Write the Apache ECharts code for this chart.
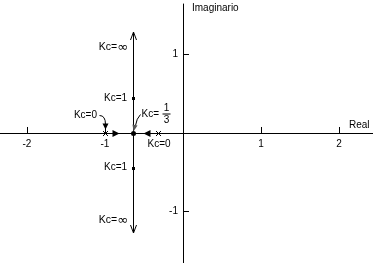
<!DOCTYPE html>
<html><head><meta charset="utf-8">
<script src="https://cdn.jsdelivr.net/npm/echarts@6/dist/echarts.min.js"></script>
<style>html,body{margin:0;padding:0;background:#fff}#c{width:373px;height:263px}</style>
</head><body><div id="c"></div>
<script>
// ---- data ----
const xTicks = [-2, -1, 1, 2];
const yTicks = [-1, 1];
const xRange = [-2.346, 2.436];
const yRange = [-1.656, 1.643];
const poles = [-1, -0.32];
const breakaway = -0.64;
const kcOneImag = [0.44, -0.44];
const locusEnd = 1.28;
const dirArrowX = [-0.87, -0.46];
const dirArrowSide = ['right', 'left'];
const xName = 'Real';
const yName = 'Imaginario';
const txtInf = ['Kc=', '∞'];
const txtOne = 'Kc=1';
const txtZero = 'Kc=0';
const txtThird = ['Kc=', '1', '3'];

const FAMILY = '"Liberation Sans", Arial, sans-serif';
const FONT = '10px ' + FAMILY;
const INK = '#000';
const r = v => Math.round(v) + 0.5;
function txt(x, y, text, align, valign) {
  return { type: 'text', x: x, y: y, style: { text: text, font: FONT, fill: INK, textAlign: align || 'left', textVerticalAlign: valign || 'middle' } };
}
function infTxt(x, y) {
  return { type: 'text', x: x, y: y, style: {
    text: '{k|' + txtInf[0] + '}{i|' + txtInf[1] + '}',
    rich: { k: { fontSize: 10.5, fontFamily: FAMILY, fill: INK, color: INK }, i: { fontSize: 13, fontFamily: '"DejaVu Sans", sans-serif', fill: INK, color: INK } },
    font: FONT, fill: INK, textAlign: 'right', textVerticalAlign: 'middle' } };
}
function seg(x1, y1, x2, y2, color, w) {
  return { type: 'line', shape: { x1: x1, y1: y1, x2: x2, y2: y2 }, style: { stroke: color || INK, lineWidth: w || 1 } };
}
function tri(points, color) {
  return { type: 'polygon', shape: { points: points }, style: { fill: color || INK } };
}

const chart = echarts.init(document.getElementById('c'), null, { renderer: 'canvas' });
chart.setOption({
  animation: false,
  backgroundColor: '#fff',
  grid: { left: 0, right: 0, top: 4, bottom: 0, containLabel: false, outerBoundsMode: 'none' },
  xAxis: {
    type: 'value', min: xRange[0], max: xRange[1],
    axisLine: { onZero: true, lineStyle: { color: INK, width: 1 } },
    axisTick: { show: true, inside: true, length: 6, customValues: xTicks, lineStyle: { color: INK } },
    axisLabel: { show: false },
    splitLine: { show: false }
  },
  yAxis: {
    type: 'value', min: yRange[0], max: yRange[1],
    axisLine: { onZero: true, lineStyle: { color: INK, width: 1 } },
    axisTick: { show: true, inside: true, length: 6, customValues: yTicks, lineStyle: { color: INK } },
    axisLabel: { show: false },
    splitLine: { show: false }
  },
  series: [
    { // tick labels on the x axis
      type: 'custom', clip: false, silent: true,
      data: xTicks.map(v => [v, 0]),
      renderItem: function (params, api) {
        const c = api.coord([api.value(0), api.value(1)]);
        return txt(c[0], c[1] + 11, String(api.value(0)), 'center');
      }
    },
    { // tick labels on the y axis
      type: 'custom', clip: false, silent: true,
      data: yTicks.map(v => [0, v]),
      renderItem: function (params, api) {
        const c = api.coord([api.value(0), api.value(1)]);
        return txt(c[0] - 5, c[1], String(api.value(1)), 'right');
      }
    },
    { // locus vertical branch with open arrowheads
      type: 'custom', clip: false, silent: true,
      data: [[breakaway, -locusEnd, locusEnd]],
      renderItem: function (params, api) {
        const top = api.coord([api.value(0), api.value(2)]);
        const bot = api.coord([api.value(0), api.value(1)]);
        const x = r(top[0]);
        const ty = Math.round(top[1]), by = Math.round(bot[1]);
        return { type: 'group', children: [
          seg(x, ty, x, by),
          seg(x, ty, x - 3, ty + 8), seg(x, ty, x + 3, ty + 8),
          seg(x, by, x - 3, by - 8), seg(x, by, x + 3, by - 8)
        ] };
      }
    },
    { // open-loop poles (x marks)
      type: 'custom', clip: false, silent: true,
      data: poles.map(p => [p, 0]),
      renderItem: function (params, api) {
        const c = api.coord([api.value(0), api.value(1)]);
        const x = Math.round(c[0]) + 0.5, y = Math.round(c[1]) + 0.5;
        return { type: 'group', children: [
          seg(x - 2.5, y - 2.5, x + 2.5, y + 2.5), seg(x - 2.5, y + 2.5, x + 2.5, y - 2.5)
        ] };
      }
    },
    { // direction arrows on real axis
      type: 'custom', clip: false, silent: true,
      data: dirArrowX.map((x, i) => [x, 0, dirArrowSide[i] === 'right' ? 1 : -1]),
      renderItem: function (params, api) {
        const c = api.coord([api.value(0), api.value(1)]);
        const d = api.value(2);
        const x = Math.round(c[0]) + 0.5, y = Math.round(c[1]) + 0.5;
        return tri([[x + 4 * d, y], [x - 3 * d, y - 3.5], [x - 3 * d, y + 3.5]]);
      }
    },
    { // Kc=1 points
      type: 'custom', clip: false, silent: true,
      data: kcOneImag.map(v => [breakaway, v]),
      renderItem: function (params, api) {
        const c = api.coord([api.value(0), api.value(1)]);
        return { type: 'rect', shape: { x: Math.round(c[0]) - 1, y: Math.round(c[1]) - 1, width: 3, height: 3 }, style: { fill: INK } };
      }
    },
    { // breakaway point
      type: 'custom', clip: false, silent: true,
      data: [[breakaway, 0]],
      renderItem: function (params, api) {
        const c = api.coord([api.value(0), api.value(1)]);
        return { type: 'circle', shape: { cx: Math.round(c[0]) + 0.5, cy: Math.round(c[1]) + 0.5, r: 2.5 }, style: { fill: INK } };
      }
    },
    { // annotations
      type: 'custom', clip: false, silent: true,
      data: [[0]],
      renderItem: function (params, api) {
        const top = api.coord([breakaway, locusEnd]);
        const bot = api.coord([breakaway, -locusEnd]);
        const k1 = api.coord([breakaway, kcOneImag[0]]);
        const k2 = api.coord([breakaway, kcOneImag[1]]);
        const p1 = api.coord([poles[0], 0]);
        const p2 = api.coord([poles[1], 0]);
        const b = api.coord([breakaway, 0]);
        const xe = api.coord([xRange[1], 0]);
        const ye = api.coord([0, yRange[1]]);
        const bx = Math.round(b[0]) + 0.5, by = Math.round(b[1]) + 0.5;
        const px = Math.round(p1[0]) + 0.5, py = Math.round(p1[1]) + 0.5;
        return { type: 'group', children: [
          infTxt(top[0] - 5, top[1] + 15),
          txt(k1[0] - 6, k1[1], txtOne, 'right'),
          txt(k2[0] - 6, k2[1], txtOne, 'right'),
          infTxt(bot[0] - 5, bot[1] - 13),
          txt(p1[0] - 8, p1[1] - 18, txtZero, 'right'),
          txt(p2[0] + 1, p2[1] + 11, txtZero, 'center'),
          // curved arrow to pole at -1
          { type: 'bezierCurve', shape: { x1: px - 6, y1: py - 18, cpx1: px, cpy1: py - 18, x2: px, y2: py - 9 }, style: { stroke: INK, fill: null, lineWidth: 1 } },
          tri([[px, py - 4], [px - 3, py - 10], [px + 3, py - 10]]),
          // Kc = 1/3 label with fraction
          txt(bx + 8, by - 19, txtThird[0], 'left'),
          txt(bx + 33, by - 25, txtThird[1], 'center'),
          seg(bx + 29, by - 19.5, bx + 37, by - 19.5),
          txt(bx + 33, by - 13, txtThird[2], 'center'),
          { type: 'bezierCurve', shape: { x1: bx + 7, y1: by - 19, cpx1: bx + 3, cpy1: by - 15, x2: bx + 2, y2: by - 8 }, style: { stroke: INK, fill: null, lineWidth: 1 } },
          tri([[bx, by - 2], [bx - 1, by - 9], [bx + 4, by - 8]], '#555'),
          // axis names
          txt(xe[0] - 24, xe[1] - 8, xName, 'left'),
          txt(ye[0] + 9, ye[1] + 4, yName, 'left')
        ] };
      }
    }
  ]
});
</script>
</body></html>
